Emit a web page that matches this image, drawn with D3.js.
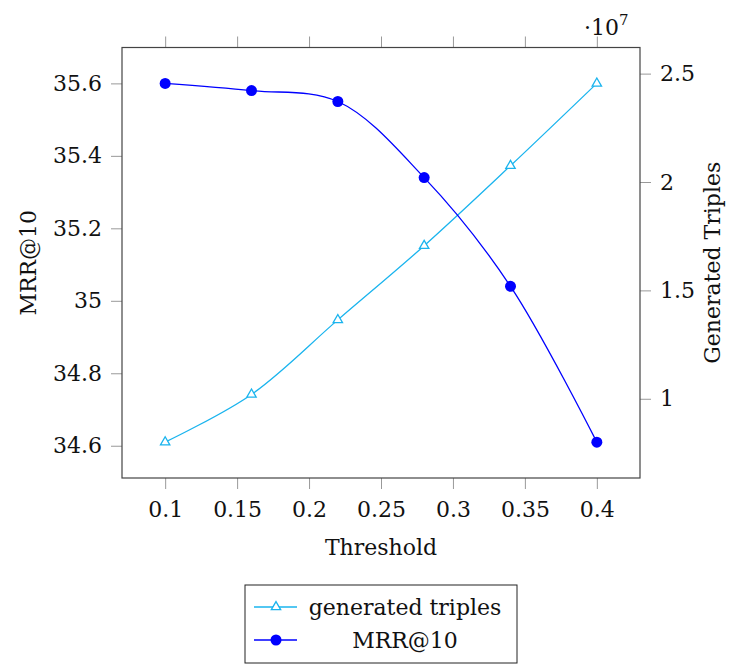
<!DOCTYPE html>
<html>
<head>
<meta charset="utf-8">
<script src="https://cdn.jsdelivr.net/npm/d3@7"></script>
<style>
  body { margin: 0; background: #fff; }
  .axis path { display: none; }
  .axis line { stroke: #999; stroke-width: 1; }
</style>
</head>
<body>
<div id="chart"></div>
<script>
// data
var thresholds = [0.1, 0.16, 0.22, 0.28, 0.34, 0.4];
var mrr = [35.6, 35.58, 35.55, 35.34, 35.04, 34.61];
var triples = [0.80e7, 1.02e7, 1.364e7, 1.706e7, 2.075e7, 2.455e7];
var xTicks = [0.1, 0.15, 0.2, 0.25, 0.3, 0.35, 0.4];
var yLeftTicks = [34.6, 34.8, 35, 35.2, 35.4, 35.6];
var yRightTicks = [1e7, 1.5e7, 2e7, 2.5e7];

var W = 740, H = 664;
var margin = {top: 47.5, right: 100, bottom: 186, left: 122};
var width = W - margin.left - margin.right,
    height = H - margin.top - margin.bottom;

var cyan = "#1ab4ee", blue = "#0000ff";
var FONT = "'DejaVu Serif', serif";
var FS = "22px";

// pgfplots-style enlarged limits (10% each side)
function enlarge(ext) { var d = (ext[1] - ext[0]) * 0.1; return [ext[0] - d, ext[1] + d]; }

var x = d3.scaleLinear().domain(enlarge(d3.extent(thresholds))).range([0, width]);
var y0 = d3.scaleLinear().domain(enlarge(d3.extent(mrr))).range([height, 0]);
var y1 = d3.scaleLinear().domain(enlarge(d3.extent(triples))).range([height, 0]);

var svg = d3.select("#chart").append("svg")
    .attr("width", W).attr("height", H)
    .attr("font-family", FONT)
  .append("g")
    .attr("transform", "translate(" + margin.left + "," + margin.top + ")");

var fmt = function(d) { return String(+d.toFixed(3)); };

// axes
svg.append("g").attr("class", "axis")
    .attr("transform", "translate(0," + height + ")")
    .call(d3.axisBottom(x).tickValues(xTicks).tickSize(11).tickPadding(12).tickFormat(fmt));
svg.append("g").attr("class", "axis")
    .call(d3.axisTop(x).tickValues(xTicks).tickSize(11).tickFormat(""));
svg.append("g").attr("class", "axis")
    .call(d3.axisLeft(y0).tickValues(yLeftTicks).tickSize(11).tickPadding(9).tickFormat(fmt));
svg.append("g").attr("class", "axis")
    .attr("transform", "translate(" + width + ",0)")
    .call(d3.axisRight(y1).tickValues(yRightTicks).tickSize(11).tickPadding(9)
      .tickFormat(function(d) { return fmt(d / 1e7); }));

svg.selectAll(".axis").attr("font-family", FONT).attr("font-size", null);
svg.selectAll(".axis text").style("font-size", FS).style("font-family", FONT).attr("fill", "#111");

// frame
svg.append("rect")
    .attr("width", width).attr("height", height)
    .attr("fill", "none").attr("stroke", "#444").attr("stroke-width", 1.2);

// lines
var curve = d3.curveCatmullRom.alpha(0.5);
var lineTriples = d3.line()
    .x(function(d, i) { return x(thresholds[i]); })
    .y(function(d) { return y1(d); })
    .curve(curve);
var lineMrr = d3.line()
    .x(function(d, i) { return x(thresholds[i]); })
    .y(function(d) { return y0(d); })
    .curve(curve);

svg.append("path").attr("d", lineTriples(triples))
    .attr("fill", "none").attr("stroke", cyan).attr("stroke-width", 1.3);
svg.append("path").attr("d", lineMrr(mrr))
    .attr("fill", "none").attr("stroke", blue).attr("stroke-width", 1.3);

var tri = d3.symbol().type(d3.symbolTriangle).size(38);
svg.selectAll(".tri").data(triples).enter().append("path")
    .attr("d", tri)
    .attr("transform", function(d, i) { return "translate(" + x(thresholds[i]) + "," + y1(d) + ")"; })
    .attr("fill", "#fff").attr("stroke", cyan).attr("stroke-width", 1.3);

svg.selectAll(".dot").data(mrr).enter().append("circle")
    .attr("cx", function(d, i) { return x(thresholds[i]); })
    .attr("cy", function(d) { return y0(d); })
    .attr("r", 5.5).attr("fill", blue);

// labels
function label(t) { return t.style("font-size", FS).style("font-family", FONT).attr("fill", "#111"); }
label(svg.append("text")
    .attr("x", width / 2).attr("y", height + 77)
    .attr("text-anchor", "middle")
    .text("Threshold"));
label(svg.append("text")
    .attr("transform", "translate(" + (28 - margin.left) + "," + (height / 2) + ") rotate(-90)")
    .attr("text-anchor", "middle").attr("dy", "0.35em")
    .text("MRR@10"));
label(svg.append("text")
    .attr("transform", "translate(" + (712 - margin.left) + "," + (height / 2) + ") rotate(-90)")
    .attr("text-anchor", "middle").attr("dy", "0.35em")
    .text("Generated Triples"));

var exp = label(svg.append("text")
    .attr("x", 584 - margin.left).attr("y", 35 - margin.top));
exp.append("tspan").text("·10");
exp.append("tspan").attr("dy", -10).style("font-size", "15px").text("7");

// legend
var lg = svg.append("g").attr("transform", "translate(" + (245 - margin.left) + "," + (585 - margin.top) + ")");
lg.append("rect").attr("width", 272).attr("height", 78)
    .attr("fill", "#fff").attr("stroke", "#222").attr("stroke-width", 1);

var legendItems = [
  {label: "generated triples", color: cyan, mark: "tri"},
  {label: "MRR@10", color: blue, mark: "dot"}
];
legendItems.forEach(function(it, i) {
  var cy = 22 + i * 33;
  lg.append("line").attr("x1", 9).attr("x2", 52).attr("y1", cy).attr("y2", cy)
      .attr("stroke", it.color).attr("stroke-width", 1.3);
  if (it.mark === "tri") {
    lg.append("path").attr("d", tri).attr("transform", "translate(31," + cy + ")")
        .attr("fill", "#fff").attr("stroke", it.color).attr("stroke-width", 1.3);
  } else {
    lg.append("circle").attr("cx", 31).attr("cy", cy).attr("r", 5.5).attr("fill", it.color);
  }
  label(lg.append("text").attr("x", 160).attr("y", cy).attr("dy", "0.35em")
      .attr("text-anchor", "middle").text(it.label));
});
</script>
</body>
</html>
